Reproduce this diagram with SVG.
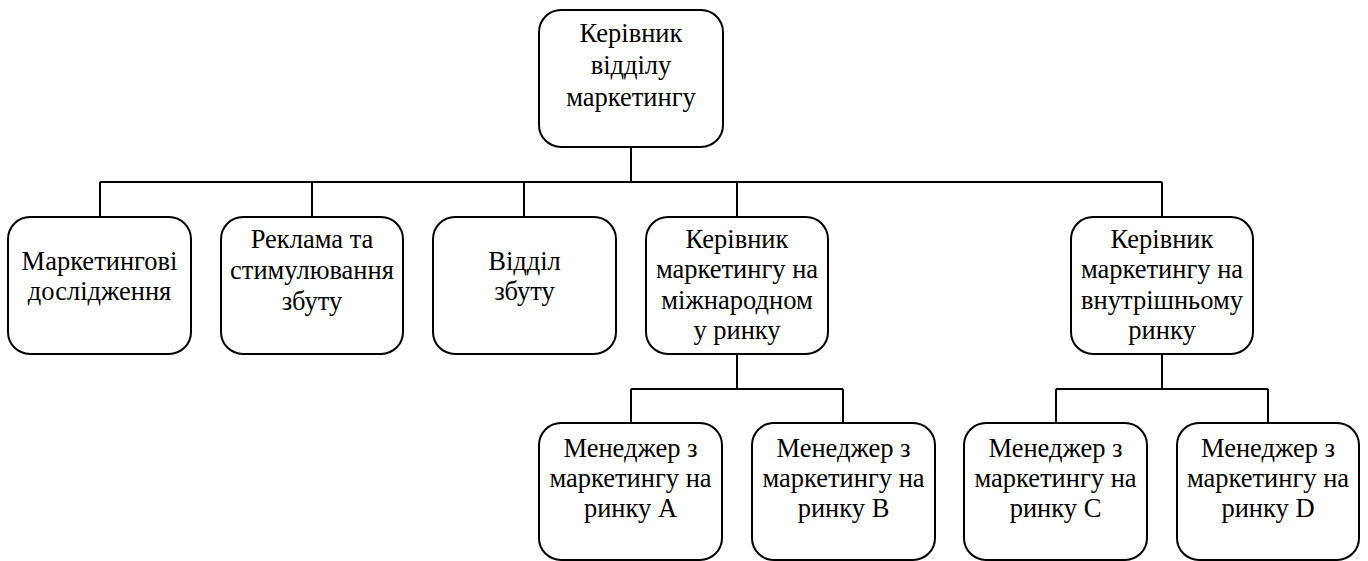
<svg xmlns="http://www.w3.org/2000/svg" width="1368" height="561" viewBox="0 0 1368 561">
<style>
.box{fill:#fff;stroke:#000;stroke-width:2}
.ln{fill:none;stroke:#000;stroke-width:2}
text{font-family:'Liberation Serif','Times New Roman',serif;font-size:26.5px;fill:#000;text-anchor:middle}
</style>
<rect width="1368" height="561" fill="#fff"/>
<g id="connectors">
<path class="ln" d="M631 147V182M100 182H1162M100 182V217M312 182V217M524 182V217M737 182V217M1162 182V217"/>
<path class="ln" d="M737 354V389M631 389H843M631 389V423M843 389V423"/>
<path class="ln" d="M1162 354V389M1056 389H1268M1056 389V423M1268 389V423"/>
</g>
<g id="n0"><rect class="box" x="539" y="10" width="184" height="137" rx="22"/>
<text x="631" y="42">Керівник</text><text x="631" y="74">відділу</text><text x="631" y="106">маркетингу</text></g>
<g id="n1"><rect class="box" x="8" y="217" width="183" height="137" rx="22"/>
<text x="99.5" y="269.5">Маркетингові</text><text x="99.5" y="299.5">дослідження</text></g>
<g id="n2"><rect class="box" x="221" y="217" width="182" height="137" rx="22"/>
<text x="312" y="248">Реклама та</text><text x="312" y="279">стимулювання</text><text x="312" y="310">збуту</text></g>
<g id="n3"><rect class="box" x="433" y="217" width="183" height="137" rx="22"/>
<text x="524.5" y="269.5">Відділ</text><text x="524.5" y="299.5">збуту</text></g>
<g id="n4"><rect class="box" x="646" y="217" width="182" height="137" rx="22"/>
<text x="737" y="247.5">Керівник</text><text x="737" y="278">маркетингу на</text><text x="737" y="308.5">міжнародном</text><text x="737" y="339">у ринку</text></g>
<g id="n5"><rect class="box" x="1071" y="217" width="182" height="137" rx="22"/>
<text x="1162" y="247.5">Керівник</text><text x="1162" y="278">маркетингу на</text><text x="1162" y="308.5">внутрішньому</text><text x="1162" y="339">ринку</text></g>
<g id="n6"><rect class="box" x="539" y="423" width="183" height="137" rx="22"/>
<text x="630.5" y="456.5">Менеджер з</text><text x="630.5" y="486.5">маркетингу на</text><text x="630.5" y="516.5">ринку А</text></g>
<g id="n7"><rect class="box" x="752" y="423" width="183" height="137" rx="22"/>
<text x="843.5" y="456.5">Менеджер з</text><text x="843.5" y="486.5">маркетингу на</text><text x="843.5" y="516.5">ринку В</text></g>
<g id="n8"><rect class="box" x="964" y="423" width="183" height="137" rx="22"/>
<text x="1055.5" y="456.5">Менеджер з</text><text x="1055.5" y="486.5">маркетингу на</text><text x="1055.5" y="516.5">ринку С</text></g>
<g id="n9"><rect class="box" x="1177" y="423" width="182" height="137" rx="22"/>
<text x="1268" y="456.5">Менеджер з</text><text x="1268" y="486.5">маркетингу на</text><text x="1268" y="516.5">ринку D</text></g>
</svg>
